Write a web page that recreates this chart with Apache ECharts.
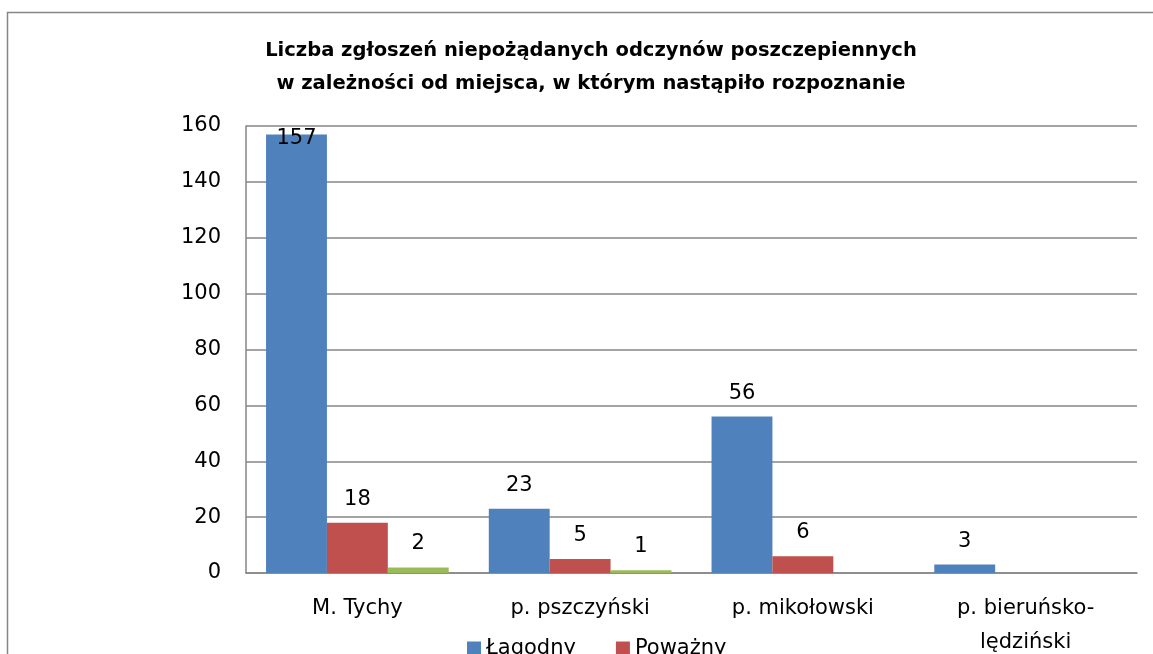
<!DOCTYPE html>
<html>
<head>
<meta charset="utf-8">
<script src="https://cdn.jsdelivr.net/npm/echarts@6/dist/echarts.min.js"></script>
<style>
  html, body { margin: 0; padding: 0; background: #fff; }
  #chart { width: 1153px; height: 654px; }
</style>
</head>
<body>
<div id="chart"></div>
<script type="text/javascript">
    // dane z wykresu
    var categories = ['M. Tychy', 'p. pszczyński', 'p. mikołowski', 'p. bieruńsko-lędziński'];
    var lagodny = [157, 23, 56, 3];
    var powazny = [18, 5, 6, 0];
    var trzecia = [2, 1, 0, 0];
    var yTicks = [0, 20, 40, 60, 80, 100, 120, 140, 160];

    var font = '"DejaVu Sans", sans-serif';
    var yMax = yTicks[yTicks.length - 1];

    // etykieta nad słupkiem; przy samej górze osi wchodzi do środka słupka
    function toItems(arr) {
        return arr.map(function (v) {
            if (v > yMax - 10) {
                return { value: v, label: { position: 'insideTop', distance: 0, offset: [0, -6] } };
            }
            return v;
        });
    }

    function barSeries(name, data, color) {
        return {
            name: name,
            type: 'bar',
            barGap: '0%',
            barCategoryGap: '18%',
            itemStyle: { color: color },
            label: {
                show: true,
                position: 'top',
                distance: 13,
                color: '#000',
                fontFamily: font,
                fontSize: 21,
                formatter: function (p) { return p.value ? String(p.value) : ''; }
            },
            data: toItems(data)
        };
    }

    var myChart = echarts.init(document.getElementById('chart'));
    var option = {
        animation: false,
        backgroundColor: '#fff',
        title: {
            text: 'Liczba zgłoszeń niepożądanych odczynów poszczepiennych\nw zależności od miejsca, w którym nastąpiło rozpoznanie',
            left: 586,
            top: 29,
            textAlign: 'center',
            textStyle: {
                fontFamily: font,
                fontSize: 19.5,
                fontWeight: 'bold',
                color: '#000',
                lineHeight: 33
            }
        },
        legend: {
            data: ['Łagodny', 'Poważny'],
            left: 467,
            top: 638,
            padding: 0,
            itemWidth: 14,
            itemHeight: 14,
            itemGap: 40,
            icon: 'rect',
            textStyle: { fontFamily: font, fontSize: 21, color: '#000' }
        },
        grid: {
            left: 246,
            right: 16,
            top: 126,
            bottom: 81,
            containLabel: false,
            outerBoundsMode: 'none'
        },
        graphic: [{
            type: 'rect',
            shape: { x: 7.5, y: 12.5, width: 1200, height: 700 },
            style: { fill: null, stroke: '#868686', lineWidth: 1.5 },
            silent: true
        }],
        xAxis: {
            type: 'category',
            data: categories,
            axisLine: { lineStyle: { color: '#868686', width: 1.5 } },
            axisTick: { show: false },
            axisLabel: {
                fontFamily: font,
                fontSize: 21,
                color: '#000',
                margin: 19,
                lineHeight: 34,
                formatter: function (v) { return v.replace('-', '-\n'); }
            }
        },
        yAxis: {
            type: 'value',
            min: yTicks[0],
            max: yMax,
            interval: 20,
            axisLine: { show: true, lineStyle: { color: '#868686', width: 1.5 } },
            axisTick: { show: false },
            splitLine: { lineStyle: { color: '#868686', width: 1.5 } },
            axisLabel: {
                fontFamily: font,
                fontSize: 21,
                color: '#000',
                margin: 25
            }
        },
        series: [
            barSeries('Łagodny', lagodny, '#4F81BD'),
            barSeries('Poważny', powazny, '#C0504D'),
            barSeries('Zgon', trzecia, '#9BBB59')
        ]
    };
    myChart.setOption(option);
</script>
</body>
</html>
